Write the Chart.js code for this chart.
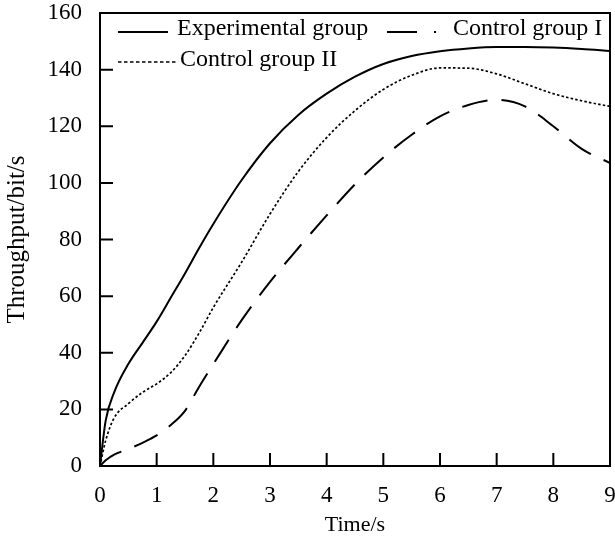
<!DOCTYPE html>
<html><head><meta charset="utf-8">
<style>html,body{margin:0;padding:0;background:#fff}#wrap{width:615px;height:545px}</style>
<script src="https://cdn.jsdelivr.net/npm/chart.js@4.4.0/dist/chart.umd.min.js"></script>
</head><body><div id="wrap"><canvas id="c" width="615" height="545"></canvas></div>
<script>
const timeS        = [0, 0.1, 0.25, 0.5, 0.75, 1, 1.25, 1.5, 1.75, 2, 2.5, 3, 3.5, 4, 4.5, 5, 5.5, 6, 6.5, 7, 7.5, 8, 8.5, 9];
const experimental = [0, 16, 26, 36, 43.5, 51, 59.5, 68, 77, 85.5, 101, 114, 124, 131.5, 137.5, 142, 144.8, 146.5, 147.5, 148, 148, 147.8, 147.3, 146.6];
const controlI     = [0, 2, 4, 6, 8.2, 10.8, 14.5, 19.5, 28, 36, 51.5, 65, 77, 88.5, 99.5, 109, 117, 123.5, 127.5, 129.3, 127, 120, 112, 107];
const controlII    = [0, 9, 17, 22, 26, 29, 33, 39, 47, 56, 72, 89, 104, 116, 125.5, 133, 138, 140.6, 140.5, 138.5, 135, 131.5, 129, 127];
const seriesNames  = ['Experimental group', 'Control group I', 'Control group II'];
const xTickLabels  = [0, 1, 2, 3, 4, 5, 6, 7, 8, 9];
const yTickLabels  = [0, 20, 40, 60, 80, 100, 120, 140, 160];

const FONT = '"Liberation Serif", "Times New Roman", serif';
const pts = arr => arr.map((v, i) => ({x: timeS[i], y: v}));

const framePlugin = {
  id: 'frame',
  afterDraw(chart) {
    const {ctx, chartArea: a, scales} = chart;
    ctx.save();
    ctx.strokeStyle = '#000';
    ctx.lineWidth = 2;
    ctx.setLineDash([]);
    ctx.strokeRect(a.left, a.top, a.right - a.left, a.bottom - a.top);
    ctx.beginPath();
    xTickLabels.forEach(v => {
      const px = scales.x.getPixelForValue(v);
      ctx.moveTo(px, a.bottom); ctx.lineTo(px, a.bottom - 13);
    });
    yTickLabels.forEach(v => {
      const py = scales.y.getPixelForValue(v);
      ctx.moveTo(a.left, py); ctx.lineTo(a.left + 13, py);
    });
    ctx.stroke();

    // legend
    ctx.font = '24px ' + FONT;
    ctx.fillStyle = '#000';
    ctx.textBaseline = 'alphabetic';
    ctx.textAlign = 'left';
    ctx.lineWidth = 2;
    ctx.beginPath(); ctx.moveTo(118, 32); ctx.lineTo(168, 32); ctx.stroke();
    ctx.fillText(seriesNames[0], 177, 35);
    ctx.beginPath(); ctx.moveTo(387, 32); ctx.lineTo(417, 32); ctx.stroke();
    ctx.fillRect(434, 31, 2, 2);
    ctx.fillText(seriesNames[1], 453, 35);
    ctx.lineWidth = 1.6;
    ctx.setLineDash([3.5, 2.5]);
    ctx.beginPath(); ctx.moveTo(118, 62); ctx.lineTo(177, 62); ctx.stroke();
    ctx.setLineDash([]);
    ctx.fillText(seriesNames[2], 180, 66);
    ctx.restore();
  }
};

new Chart(document.getElementById('c'), {
  type: 'line',
  data: {
    datasets: [
      {label: seriesNames[0], data: pts(experimental), borderColor: '#000', borderWidth: 2, pointRadius: 0, cubicInterpolationMode: 'monotone', fill: false},
      {label: seriesNames[1], data: pts(controlI), borderColor: '#000', borderWidth: 2, borderDash: [26, 14], pointRadius: 0, cubicInterpolationMode: 'monotone', fill: false},
      {label: seriesNames[2], data: pts(controlII), borderColor: '#000', borderWidth: 1.7, borderDash: [2.5, 2.2], pointRadius: 0, cubicInterpolationMode: 'monotone', fill: false}
    ]
  },
  options: {
    responsive: false,
    animation: false,
    devicePixelRatio: 1,
    layout: {padding: {top: 13, right: 5, left: 0, bottom: 0}},
    plugins: {legend: {display: false}, tooltip: {enabled: false}},
    scales: {
      x: {
        type: 'linear', min: 0, max: 9,
        afterFit: s => { s.height = 79; s.paddingLeft = 0; s.paddingRight = 0; },
        afterBuildTicks: s => { s.ticks = xTickLabels.map(v => ({value: v})); },
        grid: {display: false, drawTicks: false},
        border: {display: false},
        ticks: {color: '#000', font: {family: FONT, size: 23}, padding: 16, maxRotation: 0, autoSkip: false},
        title: {display: true, text: 'Time/s', color: '#000', font: {family: FONT, size: 22}, padding: {top: 0, bottom: 7}}
      },
      y: {
        min: 0, max: 160,
        afterFit: s => { s.width = 100; s.paddingTop = 0; s.paddingBottom = 0; },
        afterBuildTicks: s => { s.ticks = yTickLabels.map(v => ({value: v})); },
        grid: {display: false, drawTicks: false},
        border: {display: false},
        ticks: {color: '#000', font: {family: FONT, size: 23}, padding: 18},
        title: {display: true, text: 'Throughput/bit/s', color: '#000', font: {family: FONT, size: 25}, padding: {top: 2, bottom: 0}}
      }
    }
  },
  plugins: [framePlugin]
});
</script></body></html>
